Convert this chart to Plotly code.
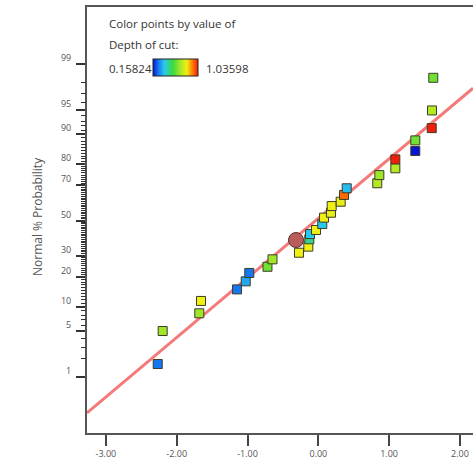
import plotly.graph_objects as go
from statistics import NormalDist

# Residuals, their normal probability (%) and the Depth of cut of each run
residuals = [-2.268, -2.198, -1.681, -1.657, -1.148, -1.025, -0.975, -0.718, -0.647, -0.273,
             -0.141, -0.127, -0.117, -0.032, 0.056, 0.081, 0.179, 0.189, 0.316, 0.363,
             0.401, 0.833, 0.862, 1.088, 1.088, 1.370, 1.370, 1.602, 1.606, 1.624]
probability = [1.65, 5.03, 8.4, 11.6, 15.3, 18.3, 21.8, 24.6, 28.2, 31.6,
               34.9, 39.0, 42.0, 44.4, 47.9, 51.7, 54.6, 58.5, 61.0, 64.8,
               68.4, 71.0, 75.0, 78.1, 81.8, 84.9, 88.3, 91.5, 94.9, 98.3]
depth_of_cut = [0.263, 0.685, 0.685, 0.817, 0.263, 0.33, 0.263, 0.62, 0.685, 0.817,
                0.817, 0.47, 0.378, 0.817, 0.378, 0.817, 0.80, 0.817, 0.80, 0.948,
                0.36, 0.72, 0.685, 0.72, 1.036, 0.158, 0.62, 1.036, 0.72, 0.62]

# Selected run, drawn as a larger circle
selected_residual = [-0.315]
selected_probability = [38.6]

depth_min, depth_max = 0.15824, 1.03598

# Reference normal line: mean and standard deviation of the residuals
line_mean, line_sd = -0.036, 1.13

prob_major = [1, 5, 10, 20, 30, 50, 70, 80, 90, 95, 99]
prob_minor = [p for p in range(1, 100) if p not in prob_major]
x_ticks = [-3, -2, -1, 0, 1, 2]

x_range = [-3.267, 2.185]
z_range = [-3.157, 3.172]

nd = NormalDist()


def probit(p):
    return nd.inv_cdf(p / 100.0)


colorscale = [
    [0.0, "#0a14d2"], [0.12, "#1478f0"], [0.25, "#28c8f0"], [0.45, "#3cdc3c"],
    [0.6, "#a0e628"], [0.75, "#f0f014"], [0.9, "#ff6a00"], [1.0, "#f01e0a"],
]

fig = go.Figure()

# Normal reference line
line_x = list(x_range)
line_z = [(v - line_mean) / line_sd for v in line_x]
fig.add_trace(go.Scatter(
    x=line_x, y=line_z, mode="lines",
    line=dict(color="#f47a7a", width=3),
    hoverinfo="skip", showlegend=False,
))

# Runs coloured by Depth of cut
fig.add_trace(go.Scatter(
    x=residuals, y=[probit(p) for p in probability], mode="markers",
    marker=dict(
        symbol="square", size=9,
        color=depth_of_cut, cmin=depth_min, cmax=depth_max,
        colorscale=colorscale,
        line=dict(color="#3c3c28", width=1),
        showscale=True,
        colorbar=dict(
            orientation="h", x=0.171, xanchor="left", y=0.878, yanchor="top",
            len=45, lenmode="pixels", thickness=17, thicknessmode="pixels",
            showticklabels=False, ticks="", outlinewidth=1, outlinecolor="#222222",
            xpad=0, ypad=0,
        ),
    ),
    showlegend=False,
))

fig.add_trace(go.Scatter(
    x=selected_residual, y=[probit(p) for p in selected_probability], mode="markers",
    marker=dict(symbol="circle", size=15, color="#b85c5c",
                line=dict(color="#5a2e2e", width=1)),
    showlegend=False,
))

# Invisible trace that carries the minor probability ticks on an overlaid axis
fig.add_trace(go.Scatter(x=[None], y=[None], yaxis="y2", showlegend=False,
                         hoverinfo="skip"))

text_font = dict(family="Open Sans, Noto Sans, sans-serif", size=11.5, color="#333333")
annotations = [
    dict(text="Color points by value of", x=0.0518, y=0.9624),
    dict(text="Depth of cut:", x=0.0518, y=0.9108),
    dict(text=f"{depth_min:.5f}", x=0.0518, y=0.8568),
    dict(text=f"{depth_max:.5f}", x=0.303, y=0.8568),
]
for a in annotations:
    a.update(xref="paper", yref="paper", xanchor="left", yanchor="middle",
             showarrow=False, font=text_font)
annotations.append(dict(
    text="Normal % Probability", x=-0.1295, y=0.507, xref="paper", yref="paper",
    xanchor="center", yanchor="middle", textangle=-90, showarrow=False,
    font=dict(family="Open Sans, Noto Sans, sans-serif", size=12, color="#555555"),
))

tick_font = dict(family="Open Sans, Noto Sans, sans-serif", size=9, color="#555555")

fig.update_layout(
    width=473, height=461,
    margin=dict(l=87, r=0, t=7, b=28),
    paper_bgcolor="white", plot_bgcolor="white",
    annotations=annotations,
    xaxis=dict(
        range=x_range, tickmode="array", tickvals=x_ticks,
        ticktext=[f"{v:.2f}" for v in x_ticks],
        ticks="outside", ticklen=11, tickwidth=2, tickcolor="#444444",
        showline=True, linecolor="#555555", linewidth=2, mirror=True,
        showgrid=False, zeroline=False, tickfont=tick_font,
    ),
    yaxis=dict(
        range=z_range, tickmode="array",
        tickvals=[probit(p) for p in prob_major],
        ticktext=[str(p) for p in prob_major],
        ticks="outside", ticklen=9, tickwidth=2, tickcolor="#333333",
        ticklabelshift=-6, ticklabelstandoff=3,
        showline=True, linecolor="#555555", linewidth=2,
        showgrid=False, zeroline=False, tickfont=tick_font,
    ),
    yaxis2=dict(
        range=z_range, overlaying="y", side="left", anchor="x",
        tickmode="array", tickvals=[probit(p) for p in prob_minor],
        ticks="outside", ticklen=5, tickwidth=1, tickcolor="#333333",
        showticklabels=False, showline=False, showgrid=False, zeroline=False,
    ),
)

fig.write_html("out.html")
